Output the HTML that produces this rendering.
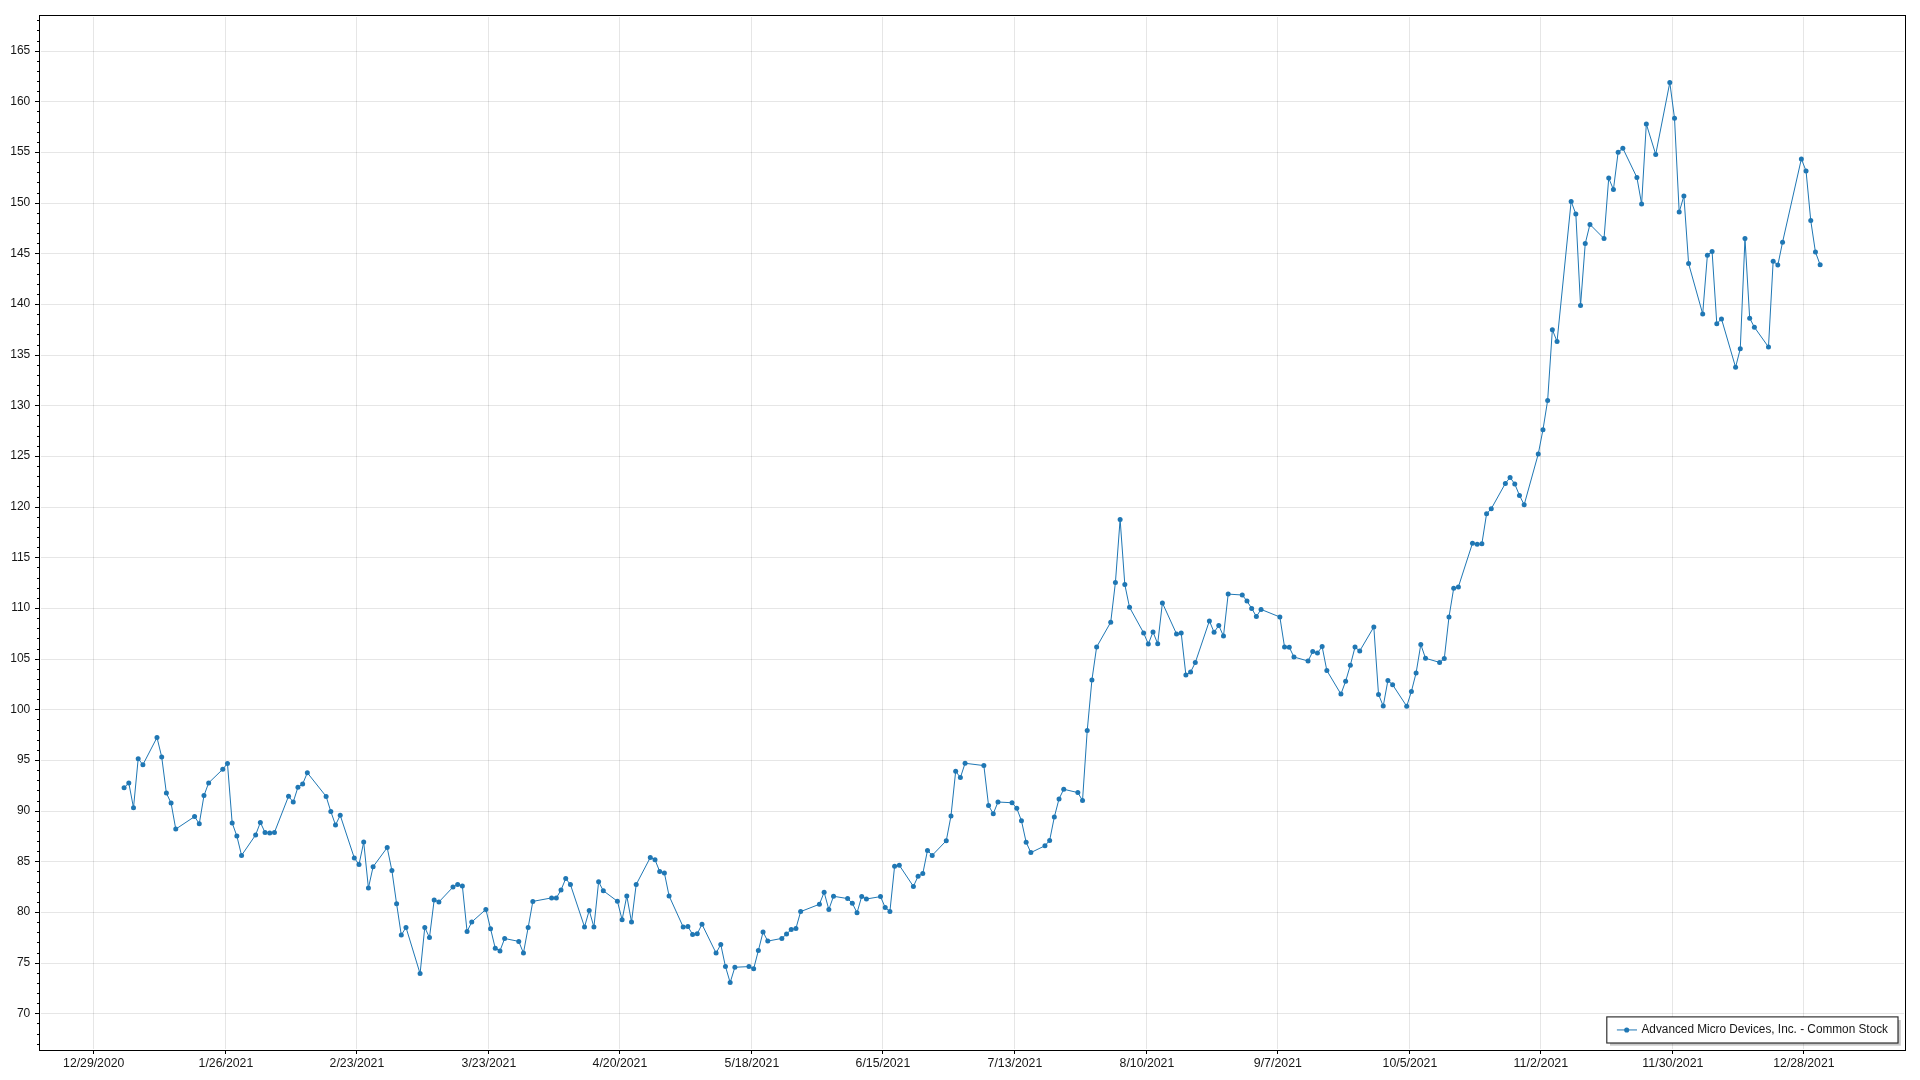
<!DOCTYPE html>
<html lang="en"><head><meta charset="utf-8"><title>Advanced Micro Devices, Inc. - Common Stock</title>
<style>html,body{margin:0;padding:0;background:#fff;overflow:hidden}svg{display:block;will-change:transform}text{font-family:"Liberation Sans",Arial,sans-serif;font-size:12px;fill:#161616}</style></head><body>
<svg width="1920" height="1080" viewBox="0 0 1920 1080">
<rect width="1920" height="1080" fill="#fff"/>
<g fill="#000" fill-opacity="0.098" shape-rendering="crispEdges">
<rect x="93" y="17" width="1" height="1032"/>
<rect x="225" y="17" width="1" height="1032"/>
<rect x="356" y="17" width="1" height="1032"/>
<rect x="488" y="17" width="1" height="1032"/>
<rect x="619" y="17" width="1" height="1032"/>
<rect x="751" y="17" width="1" height="1032"/>
<rect x="882" y="17" width="1" height="1032"/>
<rect x="1014" y="17" width="1" height="1032"/>
<rect x="1146" y="17" width="1" height="1032"/>
<rect x="1277" y="17" width="1" height="1032"/>
<rect x="1409" y="17" width="1" height="1032"/>
<rect x="1540" y="17" width="1" height="1032"/>
<rect x="1672" y="17" width="1" height="1032"/>
<rect x="1803" y="17" width="1" height="1032"/>
<rect x="41" y="1013" width="1863" height="1"/>
<rect x="41" y="963" width="1863" height="1"/>
<rect x="41" y="912" width="1863" height="1"/>
<rect x="41" y="861" width="1863" height="1"/>
<rect x="41" y="811" width="1863" height="1"/>
<rect x="41" y="760" width="1863" height="1"/>
<rect x="41" y="709" width="1863" height="1"/>
<rect x="41" y="659" width="1863" height="1"/>
<rect x="41" y="608" width="1863" height="1"/>
<rect x="41" y="557" width="1863" height="1"/>
<rect x="41" y="507" width="1863" height="1"/>
<rect x="41" y="456" width="1863" height="1"/>
<rect x="41" y="405" width="1863" height="1"/>
<rect x="41" y="355" width="1863" height="1"/>
<rect x="41" y="304" width="1863" height="1"/>
<rect x="41" y="253" width="1863" height="1"/>
<rect x="41" y="203" width="1863" height="1"/>
<rect x="41" y="152" width="1863" height="1"/>
<rect x="41" y="101" width="1863" height="1"/>
<rect x="41" y="51" width="1863" height="1"/>
</g>
<polyline points="124.10,787.75 128.80,783.00 133.50,807.75 138.19,758.75 142.89,764.75 156.99,737.50 161.69,756.90 166.38,793.10 171.08,803.10 175.78,829.10 194.57,816.60 199.27,823.75 203.97,795.60 208.67,782.90 222.76,769.25 227.46,763.40 232.16,822.90 236.86,836.10 241.55,855.40 255.65,834.90 260.35,822.40 265.05,832.50 269.74,833.00 274.44,832.40 288.54,796.25 293.24,802.00 297.93,787.25 302.63,784.10 307.33,772.75 326.12,796.40 330.82,811.50 335.52,825.00 340.22,815.30 354.31,858.00 359.01,864.50 363.71,842.10 368.41,888.00 373.10,866.75 387.20,847.60 391.90,870.60 396.60,903.75 401.29,935.10 405.99,927.40 420.09,973.60 424.78,927.40 429.48,937.60 434.18,899.90 438.88,902.00 452.97,887.10 457.67,884.50 462.37,885.90 467.07,931.50 471.77,922.00 485.86,909.40 490.56,928.70 495.26,948.25 499.96,950.90 504.65,938.50 518.75,941.40 523.45,953.00 528.15,927.60 532.84,901.40 551.64,897.90 556.33,897.90 561.03,890.10 565.73,878.50 570.43,884.60 584.52,926.90 589.22,910.40 593.92,927.10 598.62,881.75 603.32,890.75 617.41,901.25 622.11,919.75 626.81,895.90 631.51,922.00 636.20,884.50 650.30,857.50 655.00,859.75 659.69,871.50 664.39,872.90 669.09,895.90 683.19,927.00 687.88,926.50 692.58,934.40 697.28,933.75 701.98,924.25 716.07,953.10 720.77,944.50 725.47,966.60 730.17,982.50 734.87,967.25 748.96,966.60 753.66,968.75 758.36,950.60 763.06,932.00 767.75,941.10 781.85,938.40 786.55,934.00 791.24,929.40 795.94,928.40 800.64,911.60 819.43,904.25 824.13,892.25 828.83,909.50 833.53,896.25 847.62,898.60 852.32,903.25 857.02,912.75 861.72,896.40 866.42,899.00 880.51,896.60 885.21,907.50 889.91,911.40 894.60,866.25 899.30,865.25 913.40,886.40 918.10,876.25 922.79,873.60 927.49,850.40 932.19,855.40 946.28,840.70 950.98,816.00 955.68,771.25 960.38,777.60 965.08,763.25 983.87,765.60 988.57,805.60 993.27,813.70 997.97,802.00 1012.06,802.75 1016.76,808.30 1021.46,820.75 1026.15,842.20 1030.85,852.60 1044.95,845.75 1049.65,840.40 1054.34,817.00 1059.04,798.90 1063.74,789.25 1077.83,792.60 1082.53,800.50 1087.23,730.60 1091.93,679.90 1096.63,647.00 1110.72,622.20 1115.42,582.50 1120.12,519.40 1124.82,584.60 1129.51,607.25 1143.61,632.90 1148.31,644.00 1153.01,632.00 1157.70,643.75 1162.40,602.90 1176.50,633.90 1181.19,633.00 1185.89,675.00 1190.59,672.10 1195.29,662.60 1209.38,620.90 1214.08,632.25 1218.78,625.50 1223.48,636.10 1228.18,594.10 1242.27,595.00 1246.97,601.10 1251.67,608.40 1256.37,616.50 1261.06,609.40 1279.86,617.00 1284.56,647.10 1289.25,647.25 1293.95,657.00 1308.05,661.00 1312.74,651.60 1317.44,653.00 1322.14,646.60 1326.84,670.50 1340.93,694.10 1345.63,681.25 1350.33,665.25 1355.03,647.10 1359.73,651.00 1373.82,627.00 1378.52,694.40 1383.22,706.10 1387.92,680.40 1392.61,684.75 1406.71,706.25 1411.41,691.40 1416.10,672.90 1420.80,644.50 1425.50,658.25 1439.60,662.40 1444.29,658.60 1448.99,617.00 1453.69,588.25 1458.39,586.90 1472.48,543.25 1477.18,544.25 1481.88,543.75 1486.58,513.75 1491.28,508.75 1505.37,483.40 1510.07,477.40 1514.77,484.00 1519.47,495.40 1524.16,504.75 1538.26,454.00 1542.96,429.75 1547.65,400.40 1552.35,329.70 1557.05,341.50 1571.15,201.40 1575.84,214.00 1580.54,305.60 1585.24,243.60 1589.94,224.40 1604.03,238.60 1608.73,178.10 1613.43,189.50 1618.13,152.25 1622.83,148.25 1636.92,177.50 1641.62,204.00 1646.32,124.00 1655.71,154.40 1669.81,82.50 1674.51,118.20 1679.20,212.10 1683.90,196.00 1688.60,263.60 1702.70,313.90 1707.39,255.25 1712.09,251.40 1716.79,323.70 1721.49,318.90 1735.58,367.25 1740.28,348.80 1744.98,238.50 1749.68,318.20 1754.38,327.20 1768.47,347.00 1773.17,261.20 1777.87,265.00 1782.56,242.20 1801.36,158.90 1806.06,171.00 1810.75,220.60 1815.45,252.10 1820.15,264.80" fill="none" stroke="#1f77b4" stroke-width="1" stroke-linejoin="round"/>
<g fill="#1f77b4">
<circle cx="124.10" cy="787.75" r="2.5"/>
<circle cx="128.80" cy="783.00" r="2.5"/>
<circle cx="133.50" cy="807.75" r="2.5"/>
<circle cx="138.19" cy="758.75" r="2.5"/>
<circle cx="142.89" cy="764.75" r="2.5"/>
<circle cx="156.99" cy="737.50" r="2.5"/>
<circle cx="161.69" cy="756.90" r="2.5"/>
<circle cx="166.38" cy="793.10" r="2.5"/>
<circle cx="171.08" cy="803.10" r="2.5"/>
<circle cx="175.78" cy="829.10" r="2.5"/>
<circle cx="194.57" cy="816.60" r="2.5"/>
<circle cx="199.27" cy="823.75" r="2.5"/>
<circle cx="203.97" cy="795.60" r="2.5"/>
<circle cx="208.67" cy="782.90" r="2.5"/>
<circle cx="222.76" cy="769.25" r="2.5"/>
<circle cx="227.46" cy="763.40" r="2.5"/>
<circle cx="232.16" cy="822.90" r="2.5"/>
<circle cx="236.86" cy="836.10" r="2.5"/>
<circle cx="241.55" cy="855.40" r="2.5"/>
<circle cx="255.65" cy="834.90" r="2.5"/>
<circle cx="260.35" cy="822.40" r="2.5"/>
<circle cx="265.05" cy="832.50" r="2.5"/>
<circle cx="269.74" cy="833.00" r="2.5"/>
<circle cx="274.44" cy="832.40" r="2.5"/>
<circle cx="288.54" cy="796.25" r="2.5"/>
<circle cx="293.24" cy="802.00" r="2.5"/>
<circle cx="297.93" cy="787.25" r="2.5"/>
<circle cx="302.63" cy="784.10" r="2.5"/>
<circle cx="307.33" cy="772.75" r="2.5"/>
<circle cx="326.12" cy="796.40" r="2.5"/>
<circle cx="330.82" cy="811.50" r="2.5"/>
<circle cx="335.52" cy="825.00" r="2.5"/>
<circle cx="340.22" cy="815.30" r="2.5"/>
<circle cx="354.31" cy="858.00" r="2.5"/>
<circle cx="359.01" cy="864.50" r="2.5"/>
<circle cx="363.71" cy="842.10" r="2.5"/>
<circle cx="368.41" cy="888.00" r="2.5"/>
<circle cx="373.10" cy="866.75" r="2.5"/>
<circle cx="387.20" cy="847.60" r="2.5"/>
<circle cx="391.90" cy="870.60" r="2.5"/>
<circle cx="396.60" cy="903.75" r="2.5"/>
<circle cx="401.29" cy="935.10" r="2.5"/>
<circle cx="405.99" cy="927.40" r="2.5"/>
<circle cx="420.09" cy="973.60" r="2.5"/>
<circle cx="424.78" cy="927.40" r="2.5"/>
<circle cx="429.48" cy="937.60" r="2.5"/>
<circle cx="434.18" cy="899.90" r="2.5"/>
<circle cx="438.88" cy="902.00" r="2.5"/>
<circle cx="452.97" cy="887.10" r="2.5"/>
<circle cx="457.67" cy="884.50" r="2.5"/>
<circle cx="462.37" cy="885.90" r="2.5"/>
<circle cx="467.07" cy="931.50" r="2.5"/>
<circle cx="471.77" cy="922.00" r="2.5"/>
<circle cx="485.86" cy="909.40" r="2.5"/>
<circle cx="490.56" cy="928.70" r="2.5"/>
<circle cx="495.26" cy="948.25" r="2.5"/>
<circle cx="499.96" cy="950.90" r="2.5"/>
<circle cx="504.65" cy="938.50" r="2.5"/>
<circle cx="518.75" cy="941.40" r="2.5"/>
<circle cx="523.45" cy="953.00" r="2.5"/>
<circle cx="528.15" cy="927.60" r="2.5"/>
<circle cx="532.84" cy="901.40" r="2.5"/>
<circle cx="551.64" cy="897.90" r="2.5"/>
<circle cx="556.33" cy="897.90" r="2.5"/>
<circle cx="561.03" cy="890.10" r="2.5"/>
<circle cx="565.73" cy="878.50" r="2.5"/>
<circle cx="570.43" cy="884.60" r="2.5"/>
<circle cx="584.52" cy="926.90" r="2.5"/>
<circle cx="589.22" cy="910.40" r="2.5"/>
<circle cx="593.92" cy="927.10" r="2.5"/>
<circle cx="598.62" cy="881.75" r="2.5"/>
<circle cx="603.32" cy="890.75" r="2.5"/>
<circle cx="617.41" cy="901.25" r="2.5"/>
<circle cx="622.11" cy="919.75" r="2.5"/>
<circle cx="626.81" cy="895.90" r="2.5"/>
<circle cx="631.51" cy="922.00" r="2.5"/>
<circle cx="636.20" cy="884.50" r="2.5"/>
<circle cx="650.30" cy="857.50" r="2.5"/>
<circle cx="655.00" cy="859.75" r="2.5"/>
<circle cx="659.69" cy="871.50" r="2.5"/>
<circle cx="664.39" cy="872.90" r="2.5"/>
<circle cx="669.09" cy="895.90" r="2.5"/>
<circle cx="683.19" cy="927.00" r="2.5"/>
<circle cx="687.88" cy="926.50" r="2.5"/>
<circle cx="692.58" cy="934.40" r="2.5"/>
<circle cx="697.28" cy="933.75" r="2.5"/>
<circle cx="701.98" cy="924.25" r="2.5"/>
<circle cx="716.07" cy="953.10" r="2.5"/>
<circle cx="720.77" cy="944.50" r="2.5"/>
<circle cx="725.47" cy="966.60" r="2.5"/>
<circle cx="730.17" cy="982.50" r="2.5"/>
<circle cx="734.87" cy="967.25" r="2.5"/>
<circle cx="748.96" cy="966.60" r="2.5"/>
<circle cx="753.66" cy="968.75" r="2.5"/>
<circle cx="758.36" cy="950.60" r="2.5"/>
<circle cx="763.06" cy="932.00" r="2.5"/>
<circle cx="767.75" cy="941.10" r="2.5"/>
<circle cx="781.85" cy="938.40" r="2.5"/>
<circle cx="786.55" cy="934.00" r="2.5"/>
<circle cx="791.24" cy="929.40" r="2.5"/>
<circle cx="795.94" cy="928.40" r="2.5"/>
<circle cx="800.64" cy="911.60" r="2.5"/>
<circle cx="819.43" cy="904.25" r="2.5"/>
<circle cx="824.13" cy="892.25" r="2.5"/>
<circle cx="828.83" cy="909.50" r="2.5"/>
<circle cx="833.53" cy="896.25" r="2.5"/>
<circle cx="847.62" cy="898.60" r="2.5"/>
<circle cx="852.32" cy="903.25" r="2.5"/>
<circle cx="857.02" cy="912.75" r="2.5"/>
<circle cx="861.72" cy="896.40" r="2.5"/>
<circle cx="866.42" cy="899.00" r="2.5"/>
<circle cx="880.51" cy="896.60" r="2.5"/>
<circle cx="885.21" cy="907.50" r="2.5"/>
<circle cx="889.91" cy="911.40" r="2.5"/>
<circle cx="894.60" cy="866.25" r="2.5"/>
<circle cx="899.30" cy="865.25" r="2.5"/>
<circle cx="913.40" cy="886.40" r="2.5"/>
<circle cx="918.10" cy="876.25" r="2.5"/>
<circle cx="922.79" cy="873.60" r="2.5"/>
<circle cx="927.49" cy="850.40" r="2.5"/>
<circle cx="932.19" cy="855.40" r="2.5"/>
<circle cx="946.28" cy="840.70" r="2.5"/>
<circle cx="950.98" cy="816.00" r="2.5"/>
<circle cx="955.68" cy="771.25" r="2.5"/>
<circle cx="960.38" cy="777.60" r="2.5"/>
<circle cx="965.08" cy="763.25" r="2.5"/>
<circle cx="983.87" cy="765.60" r="2.5"/>
<circle cx="988.57" cy="805.60" r="2.5"/>
<circle cx="993.27" cy="813.70" r="2.5"/>
<circle cx="997.97" cy="802.00" r="2.5"/>
<circle cx="1012.06" cy="802.75" r="2.5"/>
<circle cx="1016.76" cy="808.30" r="2.5"/>
<circle cx="1021.46" cy="820.75" r="2.5"/>
<circle cx="1026.15" cy="842.20" r="2.5"/>
<circle cx="1030.85" cy="852.60" r="2.5"/>
<circle cx="1044.95" cy="845.75" r="2.5"/>
<circle cx="1049.65" cy="840.40" r="2.5"/>
<circle cx="1054.34" cy="817.00" r="2.5"/>
<circle cx="1059.04" cy="798.90" r="2.5"/>
<circle cx="1063.74" cy="789.25" r="2.5"/>
<circle cx="1077.83" cy="792.60" r="2.5"/>
<circle cx="1082.53" cy="800.50" r="2.5"/>
<circle cx="1087.23" cy="730.60" r="2.5"/>
<circle cx="1091.93" cy="679.90" r="2.5"/>
<circle cx="1096.63" cy="647.00" r="2.5"/>
<circle cx="1110.72" cy="622.20" r="2.5"/>
<circle cx="1115.42" cy="582.50" r="2.5"/>
<circle cx="1120.12" cy="519.40" r="2.5"/>
<circle cx="1124.82" cy="584.60" r="2.5"/>
<circle cx="1129.51" cy="607.25" r="2.5"/>
<circle cx="1143.61" cy="632.90" r="2.5"/>
<circle cx="1148.31" cy="644.00" r="2.5"/>
<circle cx="1153.01" cy="632.00" r="2.5"/>
<circle cx="1157.70" cy="643.75" r="2.5"/>
<circle cx="1162.40" cy="602.90" r="2.5"/>
<circle cx="1176.50" cy="633.90" r="2.5"/>
<circle cx="1181.19" cy="633.00" r="2.5"/>
<circle cx="1185.89" cy="675.00" r="2.5"/>
<circle cx="1190.59" cy="672.10" r="2.5"/>
<circle cx="1195.29" cy="662.60" r="2.5"/>
<circle cx="1209.38" cy="620.90" r="2.5"/>
<circle cx="1214.08" cy="632.25" r="2.5"/>
<circle cx="1218.78" cy="625.50" r="2.5"/>
<circle cx="1223.48" cy="636.10" r="2.5"/>
<circle cx="1228.18" cy="594.10" r="2.5"/>
<circle cx="1242.27" cy="595.00" r="2.5"/>
<circle cx="1246.97" cy="601.10" r="2.5"/>
<circle cx="1251.67" cy="608.40" r="2.5"/>
<circle cx="1256.37" cy="616.50" r="2.5"/>
<circle cx="1261.06" cy="609.40" r="2.5"/>
<circle cx="1279.86" cy="617.00" r="2.5"/>
<circle cx="1284.56" cy="647.10" r="2.5"/>
<circle cx="1289.25" cy="647.25" r="2.5"/>
<circle cx="1293.95" cy="657.00" r="2.5"/>
<circle cx="1308.05" cy="661.00" r="2.5"/>
<circle cx="1312.74" cy="651.60" r="2.5"/>
<circle cx="1317.44" cy="653.00" r="2.5"/>
<circle cx="1322.14" cy="646.60" r="2.5"/>
<circle cx="1326.84" cy="670.50" r="2.5"/>
<circle cx="1340.93" cy="694.10" r="2.5"/>
<circle cx="1345.63" cy="681.25" r="2.5"/>
<circle cx="1350.33" cy="665.25" r="2.5"/>
<circle cx="1355.03" cy="647.10" r="2.5"/>
<circle cx="1359.73" cy="651.00" r="2.5"/>
<circle cx="1373.82" cy="627.00" r="2.5"/>
<circle cx="1378.52" cy="694.40" r="2.5"/>
<circle cx="1383.22" cy="706.10" r="2.5"/>
<circle cx="1387.92" cy="680.40" r="2.5"/>
<circle cx="1392.61" cy="684.75" r="2.5"/>
<circle cx="1406.71" cy="706.25" r="2.5"/>
<circle cx="1411.41" cy="691.40" r="2.5"/>
<circle cx="1416.10" cy="672.90" r="2.5"/>
<circle cx="1420.80" cy="644.50" r="2.5"/>
<circle cx="1425.50" cy="658.25" r="2.5"/>
<circle cx="1439.60" cy="662.40" r="2.5"/>
<circle cx="1444.29" cy="658.60" r="2.5"/>
<circle cx="1448.99" cy="617.00" r="2.5"/>
<circle cx="1453.69" cy="588.25" r="2.5"/>
<circle cx="1458.39" cy="586.90" r="2.5"/>
<circle cx="1472.48" cy="543.25" r="2.5"/>
<circle cx="1477.18" cy="544.25" r="2.5"/>
<circle cx="1481.88" cy="543.75" r="2.5"/>
<circle cx="1486.58" cy="513.75" r="2.5"/>
<circle cx="1491.28" cy="508.75" r="2.5"/>
<circle cx="1505.37" cy="483.40" r="2.5"/>
<circle cx="1510.07" cy="477.40" r="2.5"/>
<circle cx="1514.77" cy="484.00" r="2.5"/>
<circle cx="1519.47" cy="495.40" r="2.5"/>
<circle cx="1524.16" cy="504.75" r="2.5"/>
<circle cx="1538.26" cy="454.00" r="2.5"/>
<circle cx="1542.96" cy="429.75" r="2.5"/>
<circle cx="1547.65" cy="400.40" r="2.5"/>
<circle cx="1552.35" cy="329.70" r="2.5"/>
<circle cx="1557.05" cy="341.50" r="2.5"/>
<circle cx="1571.15" cy="201.40" r="2.5"/>
<circle cx="1575.84" cy="214.00" r="2.5"/>
<circle cx="1580.54" cy="305.60" r="2.5"/>
<circle cx="1585.24" cy="243.60" r="2.5"/>
<circle cx="1589.94" cy="224.40" r="2.5"/>
<circle cx="1604.03" cy="238.60" r="2.5"/>
<circle cx="1608.73" cy="178.10" r="2.5"/>
<circle cx="1613.43" cy="189.50" r="2.5"/>
<circle cx="1618.13" cy="152.25" r="2.5"/>
<circle cx="1622.83" cy="148.25" r="2.5"/>
<circle cx="1636.92" cy="177.50" r="2.5"/>
<circle cx="1641.62" cy="204.00" r="2.5"/>
<circle cx="1646.32" cy="124.00" r="2.5"/>
<circle cx="1655.71" cy="154.40" r="2.5"/>
<circle cx="1669.81" cy="82.50" r="2.5"/>
<circle cx="1674.51" cy="118.20" r="2.5"/>
<circle cx="1679.20" cy="212.10" r="2.5"/>
<circle cx="1683.90" cy="196.00" r="2.5"/>
<circle cx="1688.60" cy="263.60" r="2.5"/>
<circle cx="1702.70" cy="313.90" r="2.5"/>
<circle cx="1707.39" cy="255.25" r="2.5"/>
<circle cx="1712.09" cy="251.40" r="2.5"/>
<circle cx="1716.79" cy="323.70" r="2.5"/>
<circle cx="1721.49" cy="318.90" r="2.5"/>
<circle cx="1735.58" cy="367.25" r="2.5"/>
<circle cx="1740.28" cy="348.80" r="2.5"/>
<circle cx="1744.98" cy="238.50" r="2.5"/>
<circle cx="1749.68" cy="318.20" r="2.5"/>
<circle cx="1754.38" cy="327.20" r="2.5"/>
<circle cx="1768.47" cy="347.00" r="2.5"/>
<circle cx="1773.17" cy="261.20" r="2.5"/>
<circle cx="1777.87" cy="265.00" r="2.5"/>
<circle cx="1782.56" cy="242.20" r="2.5"/>
<circle cx="1801.36" cy="158.90" r="2.5"/>
<circle cx="1806.06" cy="171.00" r="2.5"/>
<circle cx="1810.75" cy="220.60" r="2.5"/>
<circle cx="1815.45" cy="252.10" r="2.5"/>
<circle cx="1820.15" cy="264.80" r="2.5"/>
</g>
<g>
<rect x="1610" y="1020" width="290.8" height="25.7" fill="#000" fill-opacity="0.21"/>
<rect x="1606.8" y="1016.9" width="291.2" height="26.1" fill="#fff" stroke="#000" stroke-width="1.15" stroke-opacity="0.84"/>
<line x1="1616.9" y1="1029.95" x2="1637" y2="1029.95" stroke="#1f77b4" stroke-width="1"/>
<circle cx="1626.7" cy="1030" r="2.55" fill="#1f77b4"/>
<text x="1641.5" y="1033" textLength="246.5" lengthAdjust="spacingAndGlyphs">Advanced Micro Devices, Inc. - Common Stock</text>
</g>
<g fill="#000" shape-rendering="crispEdges">
<rect x="39" y="15" width="1867" height="1"/>
<rect x="39" y="1050" width="1867" height="1"/>
<rect x="39" y="15" width="1" height="1036"/>
<rect x="1905" y="15" width="1" height="1036"/>
<rect x="37" y="1044" width="2" height="1"/>
<rect x="37" y="1034" width="2" height="1"/>
<rect x="37" y="1023" width="2" height="1"/>
<rect x="35" y="1013" width="4" height="1"/>
<rect x="37" y="1003" width="2" height="1"/>
<rect x="37" y="993" width="2" height="1"/>
<rect x="37" y="983" width="2" height="1"/>
<rect x="37" y="973" width="2" height="1"/>
<rect x="35" y="963" width="4" height="1"/>
<rect x="37" y="953" width="2" height="1"/>
<rect x="37" y="942" width="2" height="1"/>
<rect x="37" y="932" width="2" height="1"/>
<rect x="37" y="922" width="2" height="1"/>
<rect x="35" y="912" width="4" height="1"/>
<rect x="37" y="902" width="2" height="1"/>
<rect x="37" y="892" width="2" height="1"/>
<rect x="37" y="882" width="2" height="1"/>
<rect x="37" y="871" width="2" height="1"/>
<rect x="35" y="861" width="4" height="1"/>
<rect x="37" y="851" width="2" height="1"/>
<rect x="37" y="841" width="2" height="1"/>
<rect x="37" y="831" width="2" height="1"/>
<rect x="37" y="821" width="2" height="1"/>
<rect x="35" y="811" width="4" height="1"/>
<rect x="37" y="801" width="2" height="1"/>
<rect x="37" y="790" width="2" height="1"/>
<rect x="37" y="780" width="2" height="1"/>
<rect x="37" y="770" width="2" height="1"/>
<rect x="35" y="760" width="4" height="1"/>
<rect x="37" y="750" width="2" height="1"/>
<rect x="37" y="740" width="2" height="1"/>
<rect x="37" y="730" width="2" height="1"/>
<rect x="37" y="719" width="2" height="1"/>
<rect x="35" y="709" width="4" height="1"/>
<rect x="37" y="699" width="2" height="1"/>
<rect x="37" y="689" width="2" height="1"/>
<rect x="37" y="679" width="2" height="1"/>
<rect x="37" y="669" width="2" height="1"/>
<rect x="35" y="659" width="4" height="1"/>
<rect x="37" y="649" width="2" height="1"/>
<rect x="37" y="638" width="2" height="1"/>
<rect x="37" y="628" width="2" height="1"/>
<rect x="37" y="618" width="2" height="1"/>
<rect x="35" y="608" width="4" height="1"/>
<rect x="37" y="598" width="2" height="1"/>
<rect x="37" y="588" width="2" height="1"/>
<rect x="37" y="578" width="2" height="1"/>
<rect x="37" y="567" width="2" height="1"/>
<rect x="35" y="557" width="4" height="1"/>
<rect x="37" y="547" width="2" height="1"/>
<rect x="37" y="537" width="2" height="1"/>
<rect x="37" y="527" width="2" height="1"/>
<rect x="37" y="517" width="2" height="1"/>
<rect x="35" y="507" width="4" height="1"/>
<rect x="37" y="497" width="2" height="1"/>
<rect x="37" y="486" width="2" height="1"/>
<rect x="37" y="476" width="2" height="1"/>
<rect x="37" y="466" width="2" height="1"/>
<rect x="35" y="456" width="4" height="1"/>
<rect x="37" y="446" width="2" height="1"/>
<rect x="37" y="436" width="2" height="1"/>
<rect x="37" y="426" width="2" height="1"/>
<rect x="37" y="415" width="2" height="1"/>
<rect x="35" y="405" width="4" height="1"/>
<rect x="37" y="395" width="2" height="1"/>
<rect x="37" y="385" width="2" height="1"/>
<rect x="37" y="375" width="2" height="1"/>
<rect x="37" y="365" width="2" height="1"/>
<rect x="35" y="355" width="4" height="1"/>
<rect x="37" y="345" width="2" height="1"/>
<rect x="37" y="334" width="2" height="1"/>
<rect x="37" y="324" width="2" height="1"/>
<rect x="37" y="314" width="2" height="1"/>
<rect x="35" y="304" width="4" height="1"/>
<rect x="37" y="294" width="2" height="1"/>
<rect x="37" y="284" width="2" height="1"/>
<rect x="37" y="274" width="2" height="1"/>
<rect x="37" y="263" width="2" height="1"/>
<rect x="35" y="253" width="4" height="1"/>
<rect x="37" y="243" width="2" height="1"/>
<rect x="37" y="233" width="2" height="1"/>
<rect x="37" y="223" width="2" height="1"/>
<rect x="37" y="213" width="2" height="1"/>
<rect x="35" y="203" width="4" height="1"/>
<rect x="37" y="193" width="2" height="1"/>
<rect x="37" y="182" width="2" height="1"/>
<rect x="37" y="172" width="2" height="1"/>
<rect x="37" y="162" width="2" height="1"/>
<rect x="35" y="152" width="4" height="1"/>
<rect x="37" y="142" width="2" height="1"/>
<rect x="37" y="132" width="2" height="1"/>
<rect x="37" y="122" width="2" height="1"/>
<rect x="37" y="111" width="2" height="1"/>
<rect x="35" y="101" width="4" height="1"/>
<rect x="37" y="91" width="2" height="1"/>
<rect x="37" y="81" width="2" height="1"/>
<rect x="37" y="71" width="2" height="1"/>
<rect x="37" y="61" width="2" height="1"/>
<rect x="35" y="51" width="4" height="1"/>
<rect x="37" y="41" width="2" height="1"/>
<rect x="37" y="30" width="2" height="1"/>
<rect x="37" y="20" width="2" height="1"/>
<rect x="93" y="1051" width="1" height="3"/>
<rect x="225" y="1051" width="1" height="3"/>
<rect x="356" y="1051" width="1" height="3"/>
<rect x="488" y="1051" width="1" height="3"/>
<rect x="619" y="1051" width="1" height="3"/>
<rect x="751" y="1051" width="1" height="3"/>
<rect x="882" y="1051" width="1" height="3"/>
<rect x="1014" y="1051" width="1" height="3"/>
<rect x="1146" y="1051" width="1" height="3"/>
<rect x="1277" y="1051" width="1" height="3"/>
<rect x="1409" y="1051" width="1" height="3"/>
<rect x="1540" y="1051" width="1" height="3"/>
<rect x="1672" y="1051" width="1" height="3"/>
<rect x="1803" y="1051" width="1" height="3"/>
</g>
<g text-anchor="end">
<text x="30.3" y="1017">70</text>
<text x="30.3" y="966">75</text>
<text x="30.3" y="915">80</text>
<text x="30.3" y="865">85</text>
<text x="30.3" y="814">90</text>
<text x="30.3" y="763">95</text>
<text x="30.3" y="713">100</text>
<text x="30.3" y="662">105</text>
<text x="30.3" y="611">110</text>
<text x="30.3" y="561">115</text>
<text x="30.3" y="510">120</text>
<text x="30.3" y="459">125</text>
<text x="30.3" y="409">130</text>
<text x="30.3" y="358">135</text>
<text x="30.3" y="307">140</text>
<text x="30.3" y="257">145</text>
<text x="30.3" y="206">150</text>
<text x="30.3" y="155">155</text>
<text x="30.3" y="105">160</text>
<text x="30.3" y="54">165</text>
</g>
<g text-anchor="middle">
<text x="93.7" y="1067" textLength="61.2" lengthAdjust="spacingAndGlyphs">12/29/2020</text>
<text x="225.9" y="1067" textLength="54.7" lengthAdjust="spacingAndGlyphs">1/26/2021</text>
<text x="356.9" y="1067" textLength="54.7" lengthAdjust="spacingAndGlyphs">2/23/2021</text>
<text x="488.9" y="1067" textLength="54.7" lengthAdjust="spacingAndGlyphs">3/23/2021</text>
<text x="619.9" y="1067" textLength="54.7" lengthAdjust="spacingAndGlyphs">4/20/2021</text>
<text x="751.9" y="1067" textLength="54.7" lengthAdjust="spacingAndGlyphs">5/18/2021</text>
<text x="882.9" y="1067" textLength="54.7" lengthAdjust="spacingAndGlyphs">6/15/2021</text>
<text x="1014.9" y="1067" textLength="54.7" lengthAdjust="spacingAndGlyphs">7/13/2021</text>
<text x="1146.9" y="1067" textLength="54.7" lengthAdjust="spacingAndGlyphs">8/10/2021</text>
<text x="1277.9" y="1067" textLength="48.2" lengthAdjust="spacingAndGlyphs">9/7/2021</text>
<text x="1409.9" y="1067" textLength="54.7" lengthAdjust="spacingAndGlyphs">10/5/2021</text>
<text x="1540.9" y="1067" textLength="54.7" lengthAdjust="spacingAndGlyphs">11/2/2021</text>
<text x="1672.9" y="1067" textLength="61.2" lengthAdjust="spacingAndGlyphs">11/30/2021</text>
<text x="1803.9" y="1067" textLength="61.2" lengthAdjust="spacingAndGlyphs">12/28/2021</text>
</g>
</svg></body></html>
